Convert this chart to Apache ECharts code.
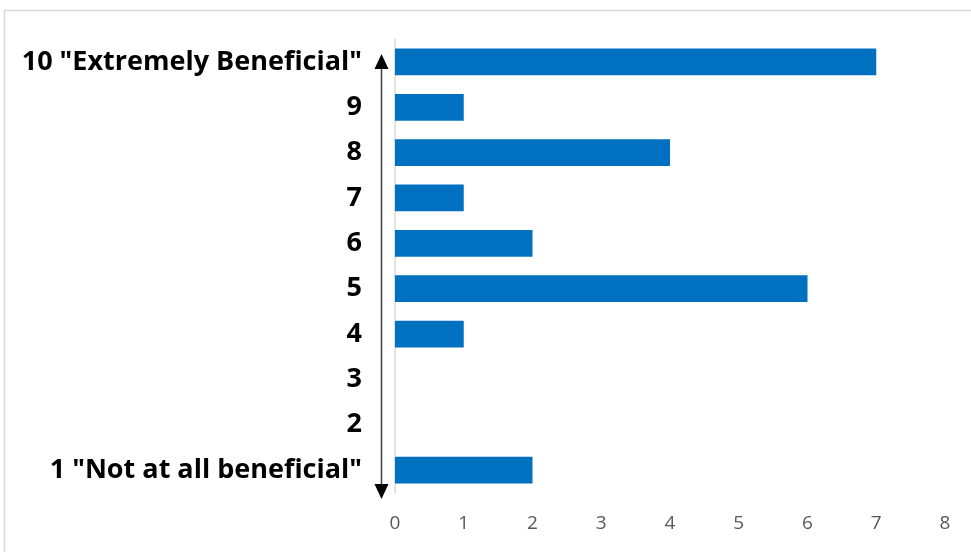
<!DOCTYPE html>
<html><head><meta charset="utf-8">
<script src="https://cdn.jsdelivr.net/npm/echarts@6/dist/echarts.min.js"></script>
<style>html,body{margin:0;padding:0;background:#fff}#c{width:971px;height:552px}</style>
</head><body><div id="c"></div>
<script>
const categories = ['1 "Not at all beneficial"','2','3','4','5','6','7','8','9','10 "Extremely Beneficial"'];
const values = [2,0,0,1,6,2,1,4,1,7];
const xTicks = [0,1,2,3,4,5,6,7,8];

const chart = echarts.init(document.getElementById('c'));
const option = {
  animation:false,
  backgroundColor:'#fff',
  grid:{left:395,right:26,top:39.3,bottom:59.3,containLabel:false},
  xAxis:{type:'value',min:xTicks[0],max:xTicks[xTicks.length-1],interval:1,
    axisLine:{show:false},axisTick:{show:false},splitLine:{show:false},
    axisLabel:{color:'#595959',fontSize:19,fontFamily:'Open Sans',margin:21,
      formatter:v=>String(v)}},
  yAxis:{type:'category',data:categories,
    axisLine:{show:true,lineStyle:{color:'#d9d9d9',width:1.5}},
    axisTick:{show:false},
    axisLabel:{color:'#000',fontSize:27,fontWeight:'bold',fontFamily:'Open Sans',margin:33}},
  series:[{type:'bar',data:values,barWidth:'59%',itemStyle:{color:'#0070C0'}}]
};
chart.setOption(option);
// double-headed arrow beside the category axis
const yTop = chart.convertToPixel({yAxisIndex:0}, categories[categories.length-1]);
const yBot = chart.convertToPixel({yAxisIndex:0}, categories[0]);
const ax = 381.5;
chart.setOption({graphic:[
  {type:'rect',shape:{x:4.5,y:10.5,width:980,height:560},style:{fill:'none',stroke:'#d9d9d9',lineWidth:1.5},silent:true},
  {type:'line',shape:{x1:ax,y1:yTop-4,x2:ax,y2:yBot+24},style:{stroke:'#404040',lineWidth:1.5}},
  {type:'polygon',shape:{points:[[ax,yTop-8],[ax-7,yTop+7],[ax+7,yTop+7]]},style:{fill:'#000'}},
  {type:'polygon',shape:{points:[[ax,yBot+29],[ax-7,yBot+14],[ax+7,yBot+14]]},style:{fill:'#000'}}
]});
</script></body></html>
